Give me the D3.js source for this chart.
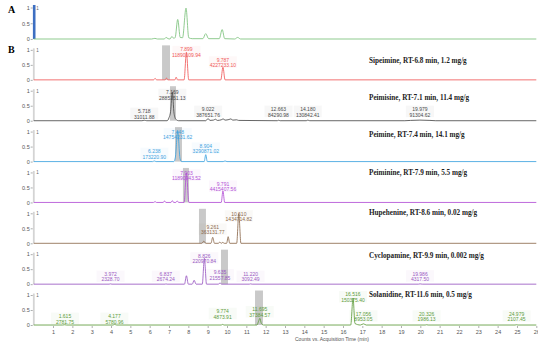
<!DOCTYPE html>
<html>
<head>
<meta charset="utf-8">
<script src="https://d3js.org/d3.v7.min.js"></script>
<style>
  body { margin: 0; background: #fff; }
  svg { display: block; }
  .tick text { font-family: "Liberation Sans", Arial, sans-serif; }
</style>
</head>
<body>
<script>
// ---------------- data ----------------
var xTicks = d3.range(1, 27);
var yTicks = [0, 0.5, 1];

var panelNames = ["TIC", "Sipeimine", "Peimisine", "Peimine", "Peiminine", "Hupehenine", "Cyclopamine", "Solanidine"];
var panelTitles = ["",
  "Sipeimine, RT-6.8 min, 1.2 mg/g",
  "Peimisine, RT-7.1 min, 11.4 mg/g",
  "Peimine, RT-7.4 min, 14.1 mg/g",
  "Peiminine, RT-7.9 min, 5.5 mg/g",
  "Hupehenine, RT-8.6 min, 0.02 mg/g",
  "Cyclopamine, RT-9.9 min, 0.002 mg/g",
  "Solanidine, RT-11.6 min, 0.5 mg/g"];
var panelColors = ["#7cc27c", "#f05a5a", "#4a4a4a", "#3fa3df", "#b24fd6", "#8d6a4e", "#9a58c2", "#5e9c3c"];
// highlighted retention window (start, end) in min
var rtWindows = [null, [6.64, 7.05], [7.05, 7.36], [7.31, 7.67], [7.72, 8.03], [8.55, 8.91], [9.69, 10.05], [11.45, 11.86]];

// trace points [time (min), relative response]
var ticTrace = [[0,0],[6.1,0],[6.27,0.02],[6.4,0],[6.75,0],[6.85,0.05],[6.95,0.01],[7.05,0],[7.15,0.08],[7.25,0.02],[7.32,0.05],[7.45,0.62],[7.58,0.05],[7.7,0.04],[7.88,0.98],[8.02,0.04],[8.2,0.01],[8.75,0.01],[8.9,0.17],[9.05,0.01],[9.6,0.01],[9.75,0.3],[9.88,0.01],[10.4,0],[10.55,0.05],[10.7,0],[26,0]];
var sipeimineTrace = [[0,0],[6.2,0],[6.28,0.05],[6.36,0],[6.8,0],[6.87,0.06],[6.94,0],[7.3,0],[7.37,0.09],[7.44,0],[7.78,0],[7.9,0.92],[8.02,0],[9.68,0],[9.79,0.42],[9.9,0],[26,0]];
var peimisineTrace = [[0,0],[5.6,0],[5.72,0.015],[5.85,0],[6.9,0],[7.0,0.1],[7.08,0.3],[7.17,0.95],[7.26,0.25],[7.35,0.05],[7.5,0],[8.9,0],[9.02,0.07],[9.12,0.01],[9.3,0.02],[9.4,0.05],[9.5,0.01],[9.7,0.03],[9.8,0.06],[9.9,0.02],[10.1,0.04],[10.2,0.06],[10.3,0.02],[10.5,0.03],[10.6,0.01],[12.6,0],[12.66,0.015],[12.75,0],[14.1,0],[14.18,0.02],[14.28,0],[19.2,0],[19.5,0.01],[19.98,0.02],[20.5,0.01],[20.8,0],[26,0]];
var peimineTrace = [[0,0],[6.15,0],[6.24,0.02],[6.33,0],[7.25,0],[7.33,0.15],[7.45,1.02],[7.57,0.1],[7.65,0],[8.82,0],[8.9,0.23],[8.98,0],[9.8,0],[9.9,0.02],[10.0,0],[26,0]];
var peiminineTrace = [[0,0],[6.2,0],[6.28,0.03],[6.35,0],[6.7,0],[6.77,0.05],[6.84,0],[7.1,0],[7.17,0.06],[7.24,0],[7.35,0],[7.42,0.05],[7.5,0],[7.78,0],[7.9,0.98],[8.03,0],[9.7,0],[9.79,0.38],[9.88,0],[26,0]];
var hupehenineTrace = [[0,0],[8.7,0],[8.8,0.07],[8.9,0],[9.17,0],[9.26,0.2],[9.35,0],[9.55,0],[9.63,0.04],[9.7,0],[9.78,0.03],[9.86,0],[9.98,0],[10.06,0.22],[10.14,0],[10.5,0],[10.61,0.98],[10.72,0],[26,0]];
var cyclopamineTrace = [[0,0],[3.9,0],[3.97,0.01],[4.05,0],[6.8,0],[6.84,0.01],[6.9,0],[7.8,0],[7.9,0.28],[8.0,0],[8.2,0],[8.3,0.13],[8.4,0],[8.72,0],[8.83,0.86],[8.94,0],[9.55,0],[9.64,0.04],[9.72,0],[11.15,0],[11.22,0.01],[11.3,0],[19.9,0],[19.99,0.01],[20.1,0],[26,0]];
var solanidineTrace = [[0,0],[1.5,0],[1.6,0.01],[1.7,0],[4.1,0],[4.18,0.02],[4.3,0],[9.7,0],[9.77,0.02],[9.85,0],[11.55,0],[11.63,0.12],[11.7,0.22],[11.78,0.05],[11.9,0],[16.4,0],[16.52,0.9],[16.62,0.05],[16.9,0],[17.06,0.04],[17.2,0],[20.25,0],[20.33,0.01],[20.4,0],[24.9,0],[24.98,0.01],[25.05,0],[26,0]];
var traces = [ticTrace, sipeimineTrace, peimisineTrace, peimineTrace, peiminineTrace, hupehenineTrace, cyclopamineTrace, solanidineTrace];

// peak annotations [rt, area, label level (relative response)]
var sipeimineLabels = [[7.899, "11890109.94", 1.0], [9.787, "4227233.10", 0.65]];
var peimisineLabels = [[5.718, "31011.88", 0.3], [7.169, "2885351.13", 0.93], [9.022, "387651.76", 0.37], [12.663, "84290.98", 0.37], [14.180, "130842.41", 0.37], [19.979, "91304.62", 0.37]];
var peimineLabels = [[6.238, "173220.90", 0.33], [7.448, "14754231.62", 0.98], [8.904, "3290871.02", 0.51]];
var peiminineLabels = [[7.903, "11890943.52", 0.97], [9.791, "4415407.56", 0.6]];
var hupehenineLabels = [[9.261, "363131.77", 0.53], [10.610, "1434714.82", 0.97]];
var cyclopamineLabels = [[3.972, "2328.70", 0.32], [6.837, "2674.24", 0.32], [8.826, "220970.84", 0.93], [9.635, "21557.85", 0.37], [11.220, "3092.49", 0.32], [19.986, "4317.50", 0.33]];
var solanidineLabels = [[1.615, "2781.75", 0.28], [4.177, "5780.96", 0.28], [9.774, "4873.91", 0.44], [11.695, "37384.57", 0.5], [16.516, "150375.40", 1.0], [17.056, "8953.05", 0.36], [20.326, "1986.13", 0.36], [24.979, "2107.45", 0.36]];
var peakLabels = [[], sipeimineLabels, peimisineLabels, peimineLabels, peiminineLabels, hupehenineLabels, cyclopamineLabels, solanidineLabels];

// ---------------- layout ----------------
var width = 550, height = 346;
var firstBase = 39, pitch = 40.86, panelH = 30;

var svg = d3.select("body").append("svg")
  .attr("width", width).attr("height", height);

svg.append("defs").append("clipPath").attr("id", "clip")
  .append("rect").attr("x", 0).attr("y", 0).attr("width", 538).attr("height", height);

var root = svg.append("g").attr("clip-path", "url(#clip)");

var x = d3.scaleLinear().domain([0, 26]).range([33.7, 536.3]);

panelNames.forEach(function(name, i) {
  var base = firstBase + i * pitch;
  var y = d3.scaleLinear().domain([0, 1]).range([base, base - (i == 0 ? 31.5 : panelH)]);
  var g = root.append("g").attr("class", "panel " + name);
  var col = panelColors[i];

  // retention window highlight
  if (rtWindows[i]) {
    g.append("rect")
      .attr("x", x(rtWindows[i][0]))
      .attr("width", x(rtWindows[i][1]) - x(rtWindows[i][0]))
      .attr("y", y(1.15))
      .attr("height", y(0) - y(1.15))
      .attr("fill", "#c9c9c9");
  }

  // left marker bar
  g.append("rect")
    .attr("x", x(0) - 0.8)
    .attr("width", i == 0 ? 2.6 : 1.8)
    .attr("y", i == 0 ? y(1.08) : y(1.05))
    .attr("height", i == 0 ? y(0) - y(1.08) : y(0) - y(1.05))
    .attr("fill", i == 0 ? "#3d6fc2" : "#d4d4d4");

  // y axis
  var yAxis = d3.axisLeft(y).tickValues(yTicks).tickSize(2).tickPadding(1)
    .tickFormat(function(d) { return d == 0.5 ? "0.5" : d; });
  var ya = g.append("g").attr("transform", "translate(" + (x(0) - 1) + ",0)").call(yAxis);
  ya.select(".domain").remove();
  ya.selectAll("line").attr("stroke", "#777").attr("stroke-width", 0.6);
  ya.selectAll("text").attr("font-size", 5.5).attr("fill", "#555");

  g.append("text").attr("x", x(0) + 2.5).attr("y", y(1) + 2)
    .attr("font-family", "Liberation Sans, Arial, sans-serif")
    .attr("font-size", 4.5).attr("fill", "#666").text("1");

  // trace
  var line = d3.line().x(function(d) { return x(d[0]); }).y(function(d) { return y(d[1]); })
    .curve(d3.curveMonotoneX);
  g.append("path").datum(traces[i])
    .attr("d", line)
    .attr("fill", "none")
    .attr("stroke", col)
    .attr("stroke-width", 0.85);

  // peak labels
  peakLabels[i].forEach(function(p) {
    var lx = x(p[0]), ly = y(p[2]);
    var lg = g.append("g");
    lg.append("rect")
      .attr("x", lx - 14).attr("y", ly - 4)
      .attr("width", 28).attr("height", 11.5)
      .attr("fill", col).attr("fill-opacity", 0.045);
    lg.append("text").attr("x", lx).attr("y", ly)
      .attr("text-anchor", "middle").attr("dominant-baseline", "middle")
      .attr("font-family", "Liberation Sans, Arial, sans-serif")
      .attr("font-size", 5).attr("fill", col).text(p[0].toFixed(3));
    lg.append("text").attr("x", lx).attr("y", ly + 5.6)
      .attr("text-anchor", "middle").attr("dominant-baseline", "middle")
      .attr("font-family", "Liberation Sans, Arial, sans-serif")
      .attr("font-size", 5).attr("fill", col).text(p[1]);
  });
});

// titles (placed separately, as in the figure)
var titleY = [0, 61, 98, 135, 173, 213, 256, 295];
panelTitles.forEach(function(t, i) {
  if (!t) return;
  svg.append("text").attr("x", 369).attr("y", titleY[i])
    .attr("dominant-baseline", "middle")
    .attr("font-family", "Liberation Serif, Times New Roman, serif")
    .attr("font-weight", "bold").attr("font-size", 7.2).attr("fill", "#222")
    .text(t);
});

// panel letters
svg.append("text").attr("x", 8).attr("y", 13)
  .attr("font-family", "Liberation Serif, Times New Roman, serif")
  .attr("font-weight", "bold").attr("font-size", 10).text("A");
svg.append("text").attr("x", 8).attr("y", 53)
  .attr("font-family", "Liberation Serif, Times New Roman, serif")
  .attr("font-weight", "bold").attr("font-size", 10).text("B");

// x axis
var lastBase = firstBase + 7 * pitch;
var xAxis = d3.axisBottom(x).tickValues(xTicks).tickSize(2).tickPadding(2).tickFormat(d3.format("d"));
var xa = root.append("g").attr("transform", "translate(0," + (lastBase + 1) + ")").call(xAxis);
xa.select(".domain").remove();
xa.selectAll("line").attr("stroke", "#777").attr("stroke-width", 0.6);
xa.selectAll("text").attr("font-size", 5.5).attr("fill", "#555");

svg.append("text").attr("x", 295).attr("y", lastBase + 16)
  .attr("font-family", "Liberation Sans, Arial, sans-serif")
  .attr("font-size", 5).attr("fill", "#555")
  .text("Counts vs. Acquisition Time (min)");
</script>
</body>
</html>
